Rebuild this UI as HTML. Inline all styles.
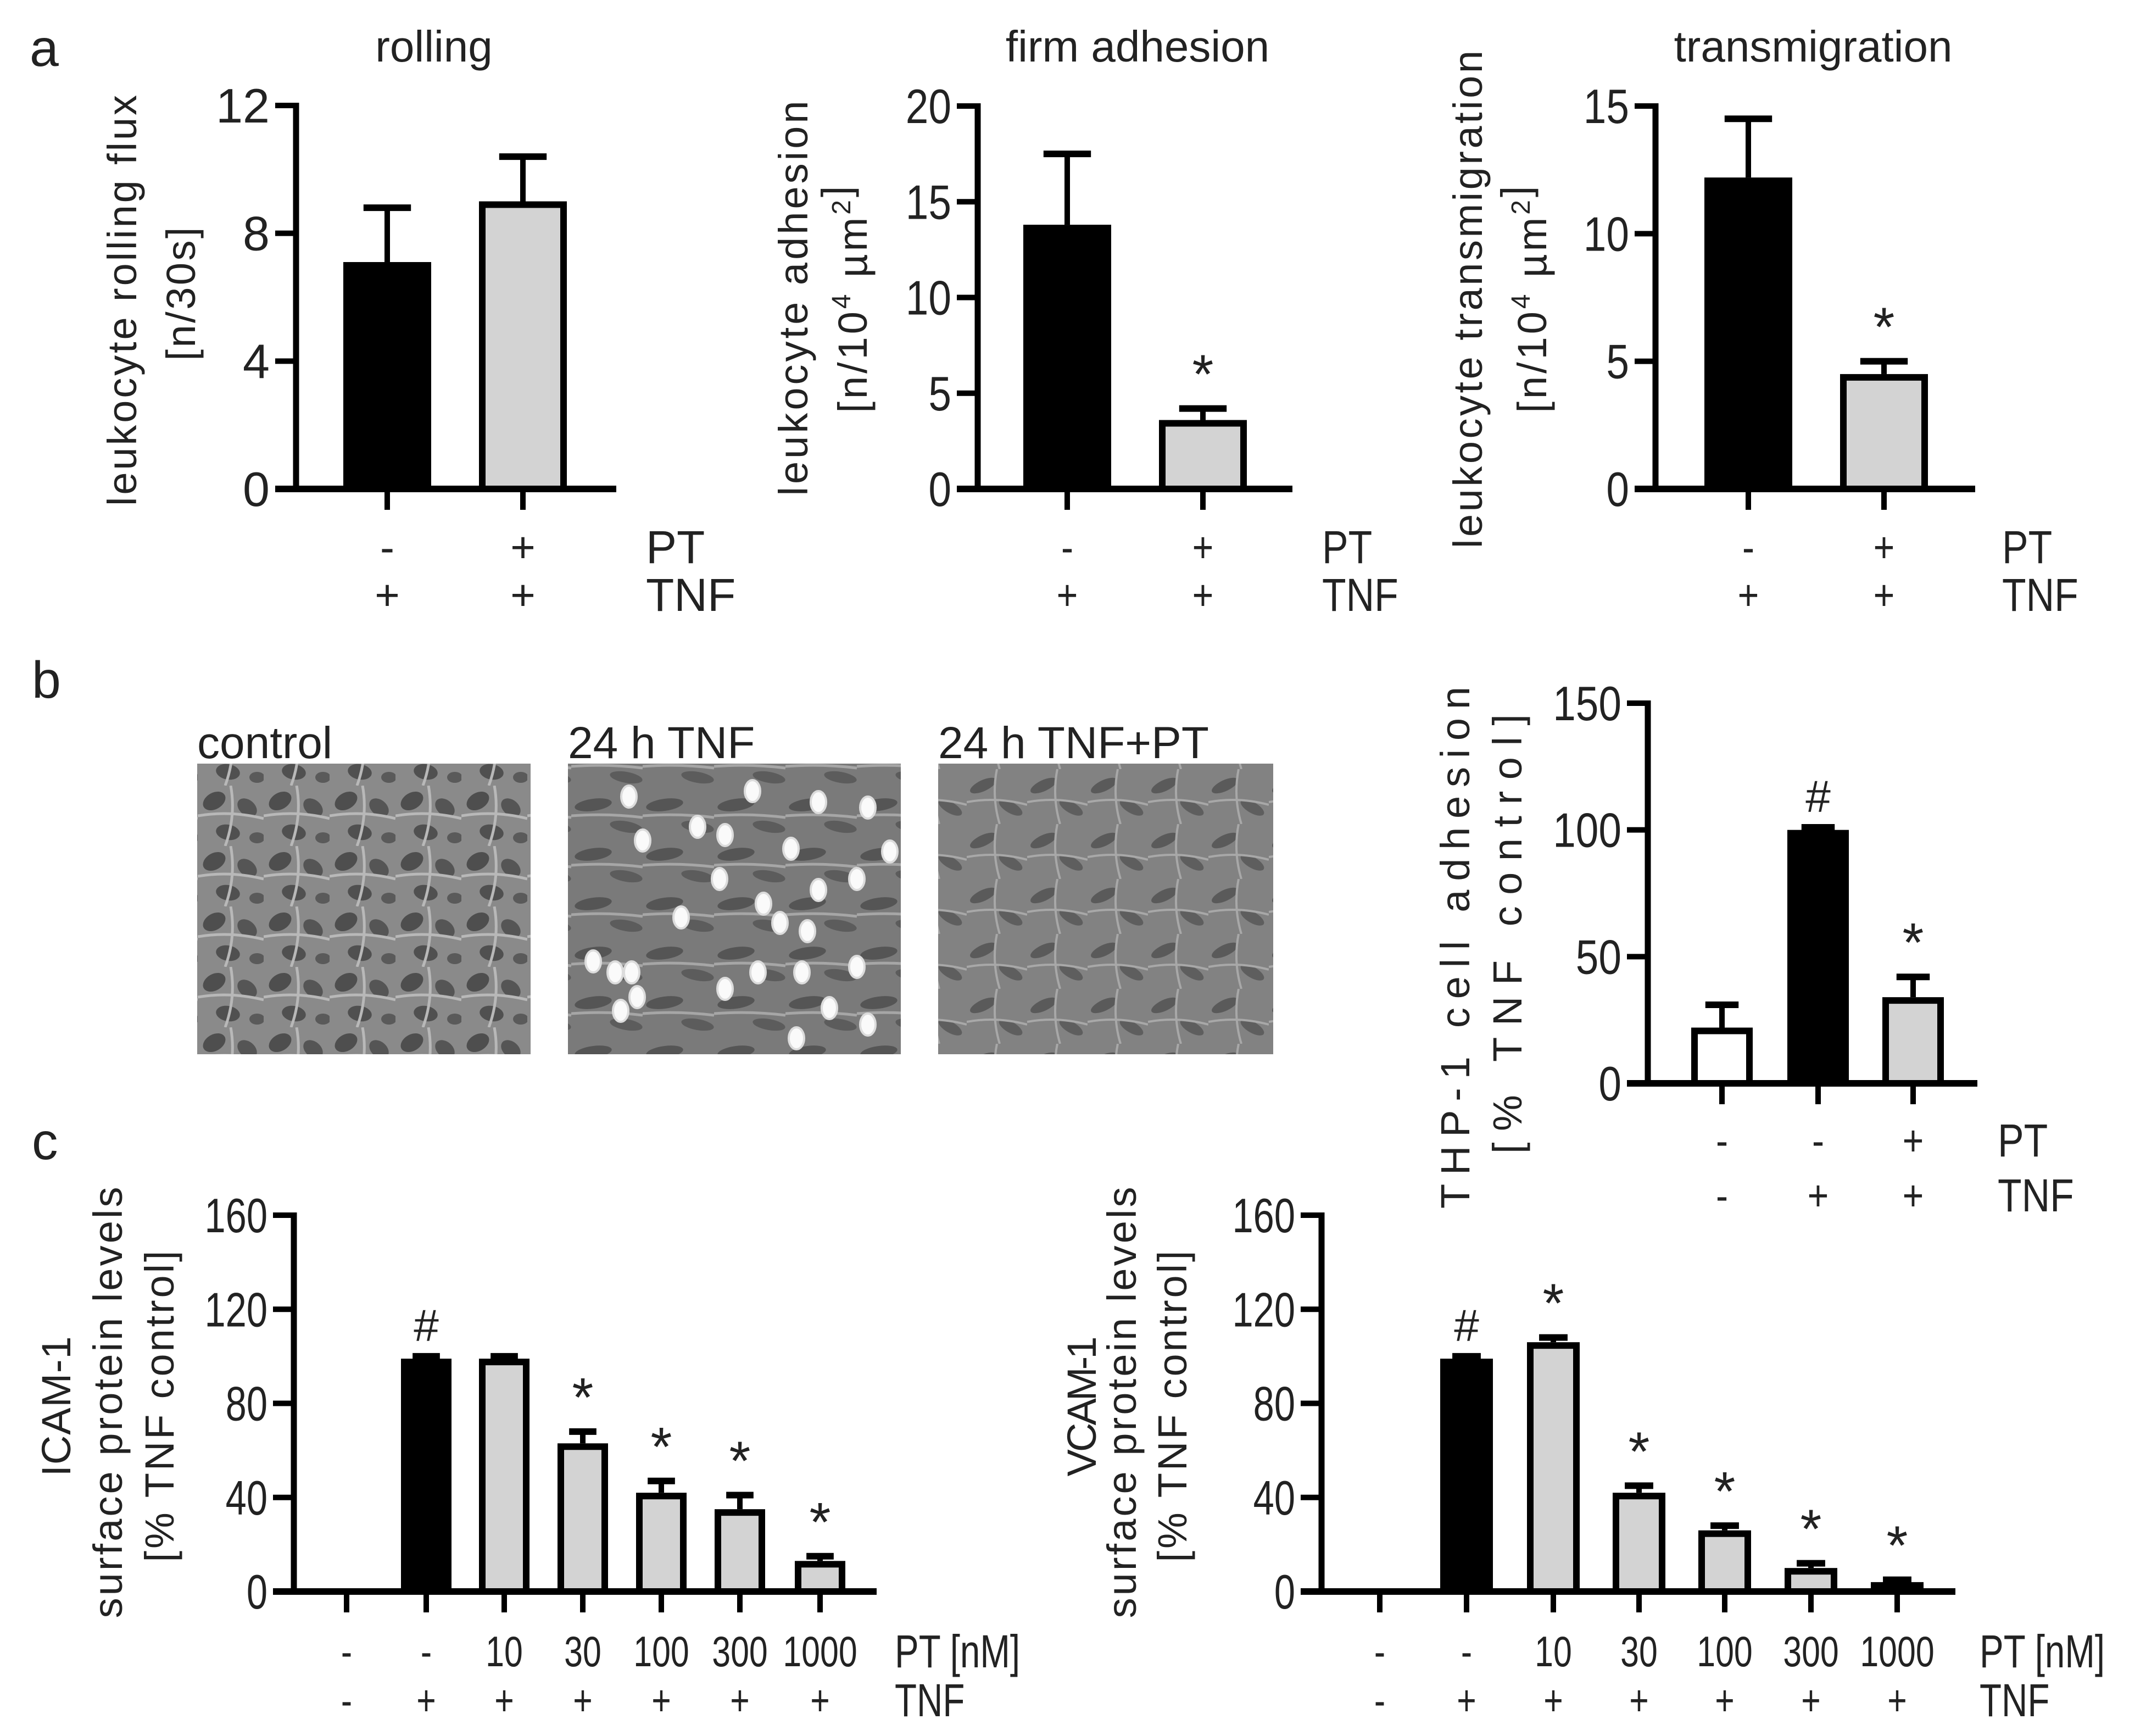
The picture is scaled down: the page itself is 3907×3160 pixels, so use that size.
<!DOCTYPE html>
<html><head><meta charset="utf-8"><style>
html,body{margin:0;padding:0;background:#fff}
svg{display:block}
text{font-family:"Liberation Sans",sans-serif;fill:#222}
</style></head><body>
<svg id="fig" width="3907" height="3160" viewBox="0 0 3907 3160" xmlns="http://www.w3.org/2000/svg">
<defs>
<pattern id="cellsA" width="120" height="110" patternUnits="userSpaceOnUse">
<rect width="120" height="110" fill="#8a8a8a"/>
<ellipse cx="30" cy="28" rx="22" ry="15" fill="#4e4e4e" transform="rotate(-30 30 28)"/>
<ellipse cx="90" cy="40" rx="20" ry="14" fill="#555" transform="rotate(40 90 40)"/>
<ellipse cx="55" cy="85" rx="22" ry="14" fill="#505050" transform="rotate(10 55 85)"/>
<ellipse cx="108" cy="95" rx="14" ry="10" fill="#5a5a5a"/>
<path d="M0 55 Q60 45 120 60 M60 0 Q70 55 50 110" stroke="#b8b8b8" stroke-width="5" fill="none"/>
</pattern>
<pattern id="cellsB" width="130" height="90" patternUnits="userSpaceOnUse">
<rect width="130" height="90" fill="#7a7a7a"/>
<ellipse cx="40" cy="25" rx="34" ry="11" fill="#555" transform="rotate(-8 40 25)"/>
<ellipse cx="100" cy="65" rx="30" ry="10" fill="#5c5c5c" transform="rotate(10 100 65)"/>
<path d="M0 45 Q65 40 130 48" stroke="#a6a6a6" stroke-width="5" fill="none"/>
</pattern>
<pattern id="cellsC" width="110" height="100" patternUnits="userSpaceOnUse">
<rect width="110" height="100" fill="#828282"/>
<ellipse cx="30" cy="30" rx="26" ry="10" fill="#5a5a5a" transform="rotate(-25 30 30)"/>
<ellipse cx="80" cy="70" rx="24" ry="10" fill="#5e5e5e" transform="rotate(30 80 70)"/>
<path d="M0 60 Q55 50 110 65 M55 0 Q45 50 60 100" stroke="#a8a8a8" stroke-width="4" fill="none"/>
</pattern>
</defs>
<g id="root"></g>
</svg>
<script>
// ---- data ----
const rollingCats = ["-/+", "+/+"];
const rollingValues = [7.1, 9.0];
const rollingErrors = [1.7, 1.4];
const rollingTicks = [0, 4, 8, 12];

const adhesionValues = [13.8, 3.6];
const adhesionErrors = [3.7, 0.6];
const adhesionTicks = [0, 5, 10, 15, 20];

const transValues = [12.2, 4.5];
const transErrors = [2.3, 0.5];
const transTicks = [0, 5, 10, 15];

const thpValues = [22, 100, 34];
const thpErrors = [9, 1, 8];
const thpTicks = [0, 50, 100, 150];
const thpPT = ["-", "-", "+"];
const thpTNF = ["-", "+", "+"];

const icamValues = [0, 99, 99, 63, 42, 35, 13];
const icamErrors = [0, 1, 1, 5, 5, 6, 2];
const vcamValues = [1, 99, 106, 42, 26, 10, 4];
const vcamErrors = [0, 1, 2, 3, 2, 2, 1];
const cTicks = [0, 40, 80, 120, 160];
const cPT = ["-", "-", "10", "30", "100", "300", "1000"];
const cTNF = ["-", "+", "+", "+", "+", "+", "+"];
const icamMarks = ["", "#", "", "*", "*", "*", "*"];
const vcamMarks = ["", "#", "*", "*", "*", "*", "*"];

const NS = "http://www.w3.org/2000/svg";
const root = document.getElementById('root');
function el(tag, attrs, parent, txt) {
  const e = document.createElementNS(NS, tag);
  for (const k in attrs) e.setAttribute(k, attrs[k]);
  if (txt !== undefined) e.textContent = txt;
  (parent || root).appendChild(e);
  return e;
}

function chart(o) {
  const g = el('g', {});
  
  
  const ymax = o.ticks[o.ticks.length - 1];
  const sy = v => o.y0 - (v / ymax) * (o.y0 - o.y1);
  o.values.forEach((v, i) => {
    const cx = o.centers[i], w = o.bw;
    const top = sy(v), et = sy(v + o.errors[i]);
    if (o.errors[i] > 0) {
      const eb = el('line', {x1: cx, x2: cx, y1: top, y2: et, stroke: '#000', 'stroke-width': 10}, g);
      
      
      const cap = el('line', {x1: cx - w * 0.27, x2: cx + w * 0.27, y1: et, y2: et, stroke: '#000', 'stroke-width': 12}, g);
      
      
    }
    const fill = o.fills[i];
    const h = Math.max(o.y0 - top, 0);
    const r = el('rect', {x: cx - w / 2 + 6, y: top + 6, width: w - 12, height: Math.max(h - 6, 0), fill: fill, stroke: '#000', 'stroke-width': 12}, g);
    
    
    if (o.marks && o.marks[i]) {
      const t = el('text', {x: cx, y: et - 28, 'text-anchor': 'middle', 'font-size': o.marks[i] === '*' ? 100 : 82, fill: '#111'}, g, o.marks[i]);
      
      
    }
    const xt = el('line', {x1: cx, x2: cx, y1: o.y0, y2: o.y0 + 38, stroke: '#000', 'stroke-width': 10}, g);
    
    
  });
  const ya = el('line', {x1: o.ax, x2: o.ax, y1: o.y1 - 5, y2: o.y0 + 5, stroke: '#000', 'stroke-width': 11}, g);
  
  
  const xa = el('line', {x1: o.ax - 38, x2: o.xend, y1: o.y0, y2: o.y0, stroke: '#000', 'stroke-width': 12}, g);
  
  
  o.ticks.forEach(t => {
    const y = sy(t);
    const tl = el('line', {x1: o.ax - 38, x2: o.ax, y1: y, y2: y, stroke: '#000', 'stroke-width': 10}, g);
    
    
    const tx = el('text', {x: 0, y: 0, 'text-anchor': 'end', 'font-size': 88, transform: `translate(${o.ax - 48},${y + 31}) scale(${o.sx || 1},1)`}, g, String(t));
    
    
  });
  o.rows.forEach((row, ri) => {
    row.vals.forEach((s, i) => {
      const t = el('text', {x: 0, y: 0, 'text-anchor': 'middle', 'font-size': 78, transform: `translate(${o.centers[i]},${row.y + 28}) scale(${o.sx || 1},1)`}, g, s);
      
      
    });
    const lab = el('text', {x: 0, y: 0, 'font-size': 84, transform: `translate(${row.lx},${row.y + 30}) scale(${o.sx || 1},1)`}, g, row.label);
    
    
  });
  o.ytitle.forEach(line => {
    const t = el('text', {x: 0, y: 0, 'text-anchor': 'middle', 'font-size': 74, fill: '#333', transform: `translate(${line.x},${line.cy}) rotate(-90)`, textLength: line.len, lengthAdjust: 'spacing'}, g);
    t.innerHTML = line.html;
    
    
  });
  if (o.title) {
    const t = el('text', {x: o.title.x, y: 112, 'text-anchor': 'middle', 'font-size': 80, fill: '#111'}, g, o.title.text);
    
    
  }
}
const sup4 = '<tspan dy="-30" font-size="48">4</tspan><tspan dy="30"> </tspan>';
const sup2 = '<tspan dy="-30" font-size="48">2</tspan><tspan dy="30"></tspan>';
const unitHtml = '[n/10' + sup4 + 'µm' + sup2 + ']';

chart({name: 'rolling-chart', values: rollingValues, errors: rollingErrors, ticks: rollingTicks,
  ax: 539, y1: 192, y0: 890, xend: 1122, centers: [705, 952], bw: 160, fills: ['#000', '#d3d3d3'],
  rows: [{vals: ['-', '+'], label: 'PT', y: 995, lx: 1176}, {vals: ['+', '+'], label: 'TNF', y: 1082, lx: 1176}],
  ytitle: [{x: 248, cy: 547, len: 748, html: 'leukocyte rolling flux'}, {x: 355, cy: 535, len: 243, html: '[n/30s]'}],
  title: {x: 790, text: 'rolling'}});

chart({name: 'firm-adhesion-chart', values: adhesionValues, errors: adhesionErrors, ticks: adhesionTicks,
  ax: 1780, y1: 193, y0: 890, xend: 2353, centers: [1943, 2190], bw: 160, fills: ['#000', '#d3d3d3'], marks: ['', '*'], sx: 0.85,
  rows: [{vals: ['-', '+'], label: 'PT', y: 995, lx: 2407}, {vals: ['+', '+'], label: 'TNF', y: 1082, lx: 2407}],
  ytitle: [{x: 1470, cy: 543, len: 719, html: 'leukocyte adhesion'}, {x: 1578, cy: 545, len: 413, html: unitHtml}],
  title: {x: 2071, text: 'firm adhesion'}});

chart({name: 'transmigration-chart', values: transValues, errors: transErrors, ticks: transTicks,
  ax: 3014, y1: 193, y0: 890, xend: 3596, centers: [3183, 3430], bw: 160, fills: ['#000', '#d3d3d3'], marks: ['', '*'], sx: 0.85,
  rows: [{vals: ['-', '+'], label: 'PT', y: 995, lx: 3645}, {vals: ['+', '+'], label: 'TNF', y: 1082, lx: 3645}],
  ytitle: [{x: 2698, cy: 545, len: 906, html: 'leukocyte transmigration'}, {x: 2815, cy: 545, len: 413, html: unitHtml}],
  title: {x: 3301, text: 'transmigration'}});

chart({name: 'thp1-adhesion-chart', values: thpValues, errors: thpErrors, ticks: thpTicks,
  ax: 3000, y1: 1280, y0: 1972, xend: 3600, centers: [3135, 3310, 3483], bw: 112, fills: ['#fff', '#000', '#d3d3d3'], marks: ['', '#', '*'], sx: 0.85,
  rows: [{vals: thpPT, label: 'PT', y: 2075, lx: 3637}, {vals: thpTNF, label: 'TNF', y: 2175, lx: 3637}],
  ytitle: [{x: 2675, cy: 1725, len: 950, html: 'THP-1 cell adhesion'}, {x: 2770, cy: 1700, len: 800, html: '[% TNF control]'}]});

chart({name: 'icam-chart', values: icamValues, errors: icamErrors, ticks: cTicks,
  ax: 535, y1: 2212, y0: 2897, xend: 1596, centers: [631, 776, 918, 1061, 1204, 1347, 1493], bw: 92,
  fills: ['#fff', '#000', '#d3d3d3', '#d3d3d3', '#d3d3d3', '#d3d3d3', '#d3d3d3'], marks: icamMarks, sx: 0.78,
  rows: [{vals: cPT, label: 'PT [nM]', y: 3005, lx: 1629}, {vals: cTNF, label: 'TNF', y: 3094, lx: 1629}],
  ytitle: [{x: 128, cy: 2560, len: 255, html: 'ICAM-1'}, {x: 222, cy: 2553, len: 785, html: 'surface protein levels'}, {x: 316, cy: 2560, len: 567, html: '[% TNF control]'}]});

chart({name: 'vcam-chart', values: vcamValues, errors: vcamErrors, ticks: cTicks,
  ax: 2406, y1: 2212, y0: 2897, xend: 3560, centers: [2512, 2670, 2828, 2984, 3140, 3297, 3454], bw: 96,
  fills: ['#fff', '#000', '#d3d3d3', '#d3d3d3', '#d3d3d3', '#d3d3d3', '#d3d3d3'], marks: vcamMarks, sx: 0.78,
  rows: [{vals: cPT, label: 'PT [nM]', y: 3005, lx: 3604}, {vals: cTNF, label: 'TNF', y: 3094, lx: 3604}],
  ytitle: [{x: 1995, cy: 2560, len: 255, html: 'VCAM-1'}, {x: 2068, cy: 2553, len: 785, html: 'surface protein levels'}, {x: 2160, cy: 2560, len: 567, html: '[% TNF control]'}]});

[['a', 54, 120], ['b', 58, 1270], ['c', 58, 2110]].forEach(p => {
  const t = el('text', {x: p[1], y: p[2], 'font-size': 95, fill: '#111'}, root, p[0]);
  
  
});

const imgs = [
  {x: 359, w: 607, cap: 'control', pat: 'cellsA'},
  {x: 1034, w: 606, cap: '24 h TNF', pat: 'cellsB'},
  {x: 1708, w: 610, cap: '24 h TNF+PT', pat: 'cellsC'}
];
imgs.forEach((im, k) => {
  const r = el('rect', {x: im.x, y: 1390, width: im.w, height: 529, fill: `url(#${im.pat})`});
  
  
  const c = el('text', {x: im.x, y: 1380, 'font-size': 82, fill: '#111'}, root, im.cap);
  
  
});
const dotsX = [1145, 1270, 1370, 1490, 1580, 1170, 1320, 1440, 1620, 1310, 1490, 1560, 1240, 1390, 1420, 1470, 1080, 1120, 1150, 1380, 1460, 1320, 1560, 1160, 1130, 1510, 1450, 1580];
const dotsY = [1490, 1545, 1480, 1500, 1510, 1570, 1560, 1585, 1590, 1640, 1660, 1640, 1710, 1685, 1720, 1735, 1790, 1810, 1810, 1810, 1810, 1840, 1800, 1855, 1880, 1875, 1930, 1905];
dotsX.forEach((x, i) => {
  const d = el('ellipse', {cx: x, cy: dotsY[i] - 40, rx: 14, ry: 20, fill: '#fafafa', stroke: '#dcdcdc', 'stroke-width': 4});
  
  
});
</script>
</body></html>
